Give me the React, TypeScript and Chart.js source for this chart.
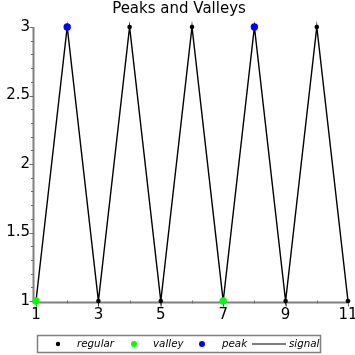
import React, { useEffect, useRef } from "react";
import { Chart, registerables } from "chart.js";

Chart.register(...registerables);

const xValues = [1, 2, 3, 4, 5, 6, 7, 8, 9, 10, 11];
const signalValues = [1, 3, 1, 3, 1, 3, 1, 3, 1, 3, 1];
const valleyX = [1, 7];
const valleyY = [1, 1];
const peakX = [2, 8];
const peakY = [3, 3];
const xTickLabels = [1, 3, 5, 7, 9, 11];
const yTickLabels = [1, 1.5, 2, 2.5, 3];
const titleText = "Peaks and Valleys";
const legendLabels = ["regular", "valley", "peak", "signal"];

const FONT = "'DejaVu Sans', sans-serif";
const AXIS_COLOR = "#808080";

const extrasPlugin = {
  id: "extras",
  beforeDatasetsDraw(chart: any) {
    const ctx = chart.ctx;
    const x = chart.scales.x;
    const y = chart.scales.y;
    const area = chart.chartArea;
    const sx = area.left - 2.5;
    const sy = area.bottom + 1.5;
    ctx.save();
    // spines
    ctx.strokeStyle = AXIS_COLOR;
    ctx.lineWidth = 2;
    ctx.beginPath();
    ctx.moveTo(sx, area.top);
    ctx.lineTo(sx, sy);
    ctx.lineTo(area.right, sy);
    ctx.stroke();
    // ticks
    ctx.lineWidth = 1;
    ctx.strokeStyle = "#707070";
    ctx.beginPath();
    for (let v = 1; v <= 11; v += 1) {
      const px = Math.round(x.getPixelForValue(v)) + 0.5;
      const major = xTickLabels.includes(v);
      ctx.moveTo(px, sy - 2);
      ctx.lineTo(px, sy + (major ? 4 : 1));
    }
    for (let i = 0; i <= 20; i++) {
      const v = 1 + i * 0.1;
      const py = Math.round(y.getPixelForValue(v)) + 0.5;
      const major = i % 5 === 0;
      ctx.moveTo(sx, py);
      ctx.lineTo(sx - (major ? 4 : 2.5), py);
    }
    ctx.stroke();
    ctx.restore();
  },
  afterDraw(chart: any) {
    const ctx = chart.ctx;
    ctx.save();
    // title
    ctx.fillStyle = "#000";
    ctx.font = `15px ${FONT}`;
    ctx.textAlign = "center";
    ctx.textBaseline = "middle";
    ctx.fillText(titleText, 179, 9);

    // legend
    const lx = 37, ly = 335, lw = 283, lh = 17;
    ctx.strokeStyle = AXIS_COLOR;
    ctx.lineWidth = 1.5;
    ctx.strokeRect(lx + 0.5, ly + 0.5, lw, lh);
    const cy = ly + lh / 2 + 0.5;
    ctx.font = `italic 10.3px ${FONT}`;
    ctx.textAlign = "left";
    const dot = (cx: number, r: number, color: string) => {
      ctx.beginPath();
      ctx.fillStyle = color;
      ctx.arc(cx, cy, r, 0, Math.PI * 2);
      ctx.fill();
    };
    dot(58, 2.2, "#000");
    ctx.fillStyle = "#000";
    ctx.fillText(legendLabels[0], 77, cy);
    dot(134, 3, "#00ff00");
    ctx.fillStyle = "#000";
    ctx.fillText(legendLabels[1], 153, cy);
    dot(202, 3, "#0000ff");
    ctx.fillStyle = "#000";
    ctx.fillText(legendLabels[2], 222, cy);
    ctx.strokeStyle = "#000";
    ctx.lineWidth = 1.2;
    ctx.beginPath();
    ctx.moveTo(252, cy);
    ctx.lineTo(286, cy);
    ctx.stroke();
    ctx.fillText(legendLabels[3], 289, cy);
    ctx.restore();
  },
};

export default function App() {
  const ref = useRef<HTMLCanvasElement>(null);
  useEffect(() => {
    document.body.style.margin = "0";
    const canvas = ref.current!;
    const chart = new Chart(canvas, {
      type: "line",
      data: {
        datasets: [
          {
            label: "signal",
            data: xValues.map((v, i) => ({ x: v, y: signalValues[i] })),
            borderColor: "#000",
            borderWidth: 1.4,
            pointRadius: 0,
            fill: false,
            tension: 0,
            clip: false as any,
            order: 4,
          },
          {
            label: "regular",
            data: xValues.map((v, i) => ({ x: v, y: signalValues[i] })),
            showLine: false,
            pointRadius: 2.3,
            pointBackgroundColor: "#000",
            pointBorderWidth: 0,
            clip: false as any,
            order: 3,
          },
          {
            label: "valley",
            data: valleyX.map((v, i) => ({ x: v, y: valleyY[i] })),
            showLine: false,
            pointRadius: 3.7,
            pointBackgroundColor: "#00ff00",
            pointBorderWidth: 0,
            clip: false as any,
            order: 2,
          },
          {
            label: "peak",
            data: peakX.map((v, i) => ({ x: v, y: peakY[i] })),
            showLine: false,
            pointRadius: 3.7,
            pointBackgroundColor: "#0000ff",
            pointBorderWidth: 0,
            clip: false as any,
            order: 1,
          },
        ],
      },
      options: {
        animation: false,
        responsive: false,
        layout: { padding: { top: 27, right: 7, left: 0, bottom: 0 } },
        plugins: {
          legend: { display: false },
          title: { display: false },
          tooltip: { enabled: false },
        },
        scales: {
          x: {
            type: "linear",
            min: 1,
            max: 11,
            afterBuildTicks: (s: any) => {
              s.ticks = xTickLabels.map((v) => ({ value: v }));
            },
            afterFit: (s: any) => {
              s.height = 54;
              s.paddingLeft = 0;
              s.paddingRight = 0;
            },
            grid: { display: false, drawTicks: false },
            border: { display: false },
            ticks: {
              color: "#000",
              font: { family: FONT, size: 15 },
              padding: 5,
              maxRotation: 0,
              autoSkip: false,
              callback: (v: any) => String(v),
            },
          },
          y: {
            type: "linear",
            min: 1,
            max: 3,
            afterBuildTicks: (s: any) => {
              s.ticks = yTickLabels.map((v) => ({ value: v }));
            },
            afterFit: (s: any) => {
              s.width = 36;
              s.paddingTop = 0;
              s.paddingBottom = 0;
            },
            grid: { display: false, drawTicks: false },
            border: { display: false },
            ticks: {
              color: "#000",
              font: { family: FONT, size: 15 },
              padding: 6,
              autoSkip: false,
              callback: (v: any) => String(v),
            },
          },
        },
      },
      plugins: [extrasPlugin],
    } as any);
    return () => chart.destroy();
  }, []);
  return <canvas ref={ref} width={355} height={355} style={{ display: "block" }} />;
}
